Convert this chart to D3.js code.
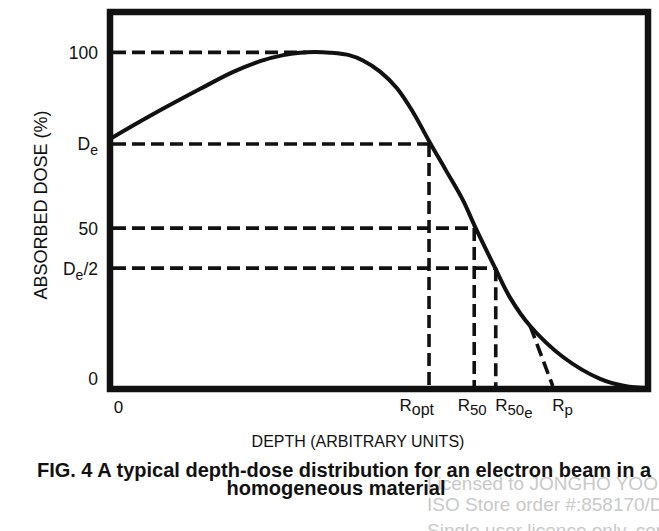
<!DOCTYPE html>
<html>
<head>
<meta charset="utf-8">
<script src="https://cdn.jsdelivr.net/npm/d3@7"></script>
<style>
  html, body { margin: 0; padding: 0; background: #fff; }
  svg { display: block; }
  text { font-family: "Liberation Sans", Arial, Helvetica, sans-serif; fill: #111; }
</style>
</head>
<body>
<svg id="chart" width="659" height="531"></svg>
<script>
// ---- data ----
const depth = [0, 7.4, 16.7, 22.9, 27.9, 32.2, 35.3, 38.1, 40.9, 44.6, 47.0, 50.2, 53.3, 56.3, 59.5, 62.5, 65.6, 67.8, 71.6, 74.3, 78.1, 84.2, 91.1, 95.7, 100];
const dose  = [74.3, 81.1, 89.1, 94.2, 97.4, 99.2, 99.9, 100.1, 99.9, 99.1, 97.6, 94.3, 89.4, 82.3, 73.1, 64.8, 56.1, 48.4, 35.9, 27.3, 18.7, 9.5, 3.0, 0.9, 0.3];

// y tick labels (schematic positions)
const yTickLabels = ["100", "De", "50", "De/2", "0"];
const yTickValues = [100, 72.8, 47.8, 35.9, 0];

// x reference labels
const xTickLabels = ["0", "Ropt", "R50", "R50e", "Rp"];
const xTickValues = [0, 59.3, 67.7, 71.7, 82.3];

// dashed reference lines: horizontal level -> depth where it meets the curve
const hLevels = [100, 72.8, 47.8, 35.9];
const hEnds   = [36.5, 59.3, 67.7, 71.7];
// vertical drops: depth, from dose level
const vDepths = [59.3, 67.7, 71.7];
const vFrom   = [72.8, 47.8, 35.9];
// practical range tangent
const tangentDepth = [78.1, 82.3];
const tangentDose  = [18.7, 0];

const xTitle = "DEPTH (ARBITRARY UNITS)";
const yTitle = "ABSORBED DOSE (%)";
const caption = ["FIG. 4 A typical depth-dose distribution for an electron beam in a", "homogeneous material"];
const watermark = ["Licensed to JONGHO YOON", "ISO Store order #:858170/Downloaded:", "Single user licence only, copying/networking prohibited"];

// ---- layout ----
const L = 110, R = 648, T = 12, B = 389;
const svg = d3.select("#chart");
const x = d3.scaleLinear().domain([0, 100]).range([L, R]);
const y = d3.scaleLinear().domain([0, 112]).range([B, T]);
const ink = "#111";

// watermark (behind)
const wm = svg.append("g")
  .style("font-family", "'Liberation Sans Narrow', 'Liberation Sans', Arial, sans-serif")
  .style("font-size", "19px");
[[427, 490], [427, 511], [427, 537]].forEach((p, i) => {
  wm.append("text").attr("x", p[0]).attr("y", p[1]).style("fill", "#c9c9c9").text(watermark[i]);
});

// dashed lines
const dash = svg.append("g").attr("stroke", ink).attr("stroke-width", 3.6)
  .attr("stroke-dasharray", "13,6").attr("fill", "none");
hLevels.forEach((lv, i) => {
  dash.append("line").attr("x1", x(0) + 3).attr("x2", x(hEnds[i]))
    .attr("y1", y(lv)).attr("y2", y(lv));
});
vDepths.forEach((d, i) => {
  dash.append("line").attr("x1", x(d)).attr("x2", x(d))
    .attr("y1", y(vFrom[i])).attr("y2", y(0) - 3);
});
dash.append("line").attr("x1", x(tangentDepth[0])).attr("y1", y(tangentDose[0]))
  .attr("x2", x(tangentDepth[1])).attr("y2", y(tangentDose[1]) - 3);

// curve
const pts = depth.map((d, i) => [d, dose[i]]);
const line = d3.line().x(d => x(d[0])).y(d => y(d[1])).curve(d3.curveCatmullRom.alpha(0.5));
svg.append("path").datum(pts).attr("d", line)
  .attr("fill", "none").attr("stroke", ink).attr("stroke-width", 4).attr("stroke-linejoin", "round");

// frame
svg.append("rect").attr("x", L).attr("y", T).attr("width", R - L).attr("height", B - T)
  .attr("fill", "none").attr("stroke", ink).attr("stroke-width", 6.5);

// helper to write label with subscripts
function richLabel(sel, label, big, small) {
  sel.text(null);
  const parts = {
    "De":   [["D", 0, big], ["e", 5, small]],
    "De/2": [["D", 0, big], ["e", 5, small], ["/2", -5, big]],
    "Ropt": [["R", 0, big], ["opt", 4, small + 1]],
    "R50":  [["R", 0, big], ["50", 4, small]],
    "R50e": [["R", 0, big], ["50", 4, small], ["e", 3, small]],
    "Rp":   [["R", 0, big], ["p", 4, small]]
  }[label] || [[label, 0, big]];
  parts.forEach(p => sel.append("tspan").attr("dy", p[1]).style("font-size", p[2] + "px").text(p[0]));
}

// y axis (labels only)
const yAxis = d3.axisLeft(y).tickValues(yTickValues).tickSize(0).tickPadding(12)
  .tickFormat((d, i) => yTickLabels[i]);
const gy = svg.append("g").attr("transform", `translate(${L},0)`).call(yAxis);
gy.select(".domain").remove();
gy.selectAll("text").style("font-size", "17.5px").style("fill", ink)
  .attr("font-family", null)
  .attr("dy", null)
  .each(function(d, i) {
    const s = d3.select(this);
    s.attr("y", yTickLabels[i] === "0" ? -5 : 6);
    richLabel(s, yTickLabels[i], 17.5, 14);
  });

// x axis (labels only)
const xAxis = d3.axisBottom(x).tickValues(xTickValues).tickSize(0).tickPadding(12)
  .tickFormat((d, i) => xTickLabels[i]);
const xAnchorShift = [8, -30, -17, -1, -1];
const gx = svg.append("g").attr("transform", `translate(0,${B})`).call(xAxis);
gx.select(".domain").remove();
gx.selectAll("text").style("font-size", "17px").style("fill", ink)
  .attr("font-family", null)
  .attr("dy", null)
  .each(function(d, i) {
    const s = d3.select(this);
    s.attr("x", xAnchorShift[i]).attr("y", i === 0 ? 24 : 22)
      .attr("text-anchor", i === 0 ? "middle" : "start");
    richLabel(s, xTickLabels[i], 17, 15);
  });

// axis titles
svg.append("text").attr("x", 358).attr("y", 447).attr("text-anchor", "middle")
  .style("font-size", "16px").text(xTitle);
svg.append("text").attr("transform", "translate(47,205) rotate(-90)").attr("text-anchor", "middle")
  .style("font-size", "18px").text(yTitle);

// caption
svg.append("text").attr("x", 344).attr("y", 477).attr("text-anchor", "middle")
  .style("font-size", "20px").style("font-weight", "bold").text(caption[0]);
svg.append("text").attr("x", 336).attr("y", 495).attr("text-anchor", "middle")
  .style("font-size", "20px").style("font-weight", "bold").text(caption[1]);
</script>
</body>
</html>
